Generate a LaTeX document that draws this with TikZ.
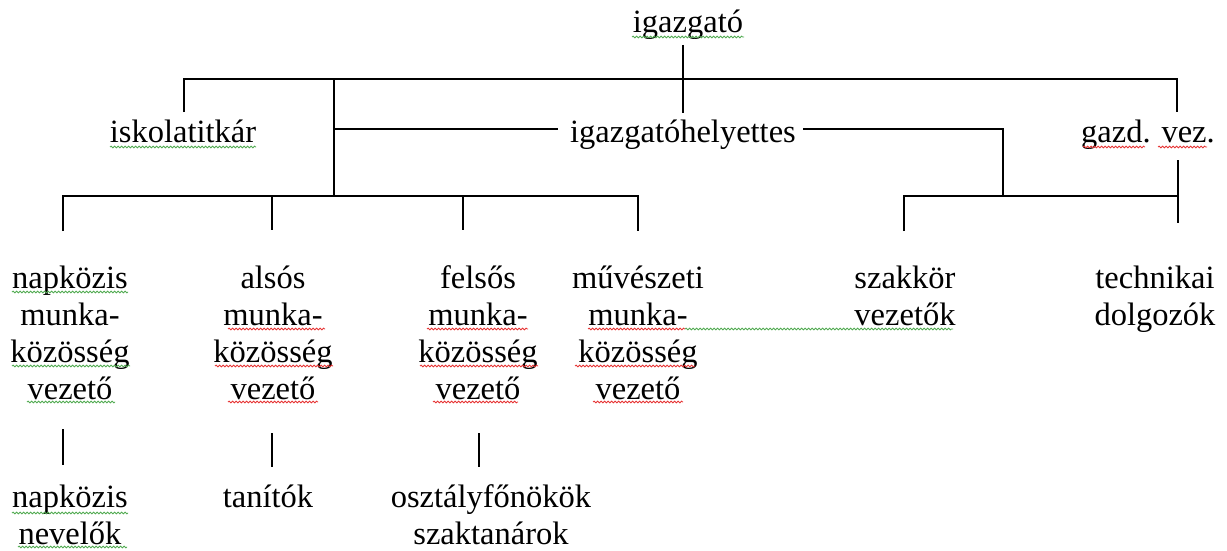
\documentclass[tikz,border=0pt]{standalone}
\usepackage{fontspec}
\setmainfont{Liberation Serif}
\usetikzlibrary{decorations.pathmorphing}
\newcommand{\mystrut}{\rule{0pt}{25pt}}
\definecolor{sqgreen}{RGB}{80,170,80}
\definecolor{sqred}{RGB}{230,50,50}
\begin{document}
\begin{tikzpicture}[x=1pt,y=-1pt,
  lbl/.style={inner sep=0pt, font=\fontsize{32.5}{37}\selectfont, align=center, anchor=north},
  conn/.style={line width=1.4pt, draw=black},
  sq/.style={line width=0.8pt, decorate, decoration={snake, segment length=3.5pt, amplitude=0.9pt}},
  sqg/.style={sq, draw=sqgreen},
  sqr/.style={sq, draw=sqred}]
\useasboundingbox (0,0) rectangle (1227,551);

% labels
\node[lbl] (igaz) at (688,7) {\mystrut igazgató};
\node[lbl] (iskola) at (183,117) {\mystrut iskolatitkár};
\node[lbl] (helyettes) at (683,117) {\mystrut igazgatóhelyettes};
\node[lbl] (gazd) at (1148,117) {\mystrut gazd. vez.};
\node[lbl] (napk) at (70,263) {\mystrut napközis\\munka-\\közösség\\vezető};
\node[lbl] (also) at (273,263) {\mystrut alsós\\munka-\\közösség\\vezető};
\node[lbl] (felso) at (478,263) {\mystrut felsős\\munka-\\közösség\\vezető};
\node[lbl] (muv) at (638,263) {\mystrut művészeti\\munka-\\közösség\\vezető};
\node[lbl] (szak) at (905,263) {\mystrut szakkör\\vezetők};
\node[lbl] (tech) at (1155,263) {\mystrut technikai\\dolgozók};
\node[lbl] (napkn) at (70,482) {\mystrut napközis\\nevelők};
\node[lbl] (tanit) at (268,482) {\mystrut tanítók};
\node[lbl] (oszt) at (491,482) {\mystrut osztályfőnökök\\szaktanárok};

% junction coordinates
\coordinate (igB) at (683,45);
\coordinate (hT) at (683,113);
\coordinate (iskT) at (184,112);
\coordinate (tbL) at (184,79);
\coordinate (tbR) at (1177,79);
\coordinate (gzT) at (1177,112);
\coordinate (vA) at (334,79);
\coordinate (vB) at (334,196);
\coordinate (hL) at (558,129);
\coordinate (hR) at (803,129);
\coordinate (hC) at (1003,129);
\coordinate (hD) at (1003,196);
\coordinate (l1) at (63,231);
\coordinate (l1t) at (63,196);
\coordinate (l2t) at (272,196);
\coordinate (l2) at (272,230);
\coordinate (l3t) at (463,196);
\coordinate (l3) at (463,230);
\coordinate (l4t) at (638,196);
\coordinate (l4) at (638,231);
\coordinate (r1) at (904,231);
\coordinate (r1t) at (904,196);
\coordinate (r2t) at (1178,196);
\coordinate (gzB) at (1178,160);
\coordinate (r2) at (1178,223);
\coordinate (s1a) at (63,429);
\coordinate (s1b) at (63,465);
\coordinate (s2a) at (272,433);
\coordinate (s2b) at (272,467);
\coordinate (s3a) at (479,433);
\coordinate (s3b) at (479,467);

% connectors
\draw[conn] (igB) -- (hT);
\draw[conn] (iskT) -- (tbL) -- (tbR) -- (gzT);
\draw[conn] (vA) -- (vB);
\draw[conn] (vA |- hL) -- (hL);
\draw[conn] (hR) -- (hC) -- (hD);
\draw[conn] (l1) -- (l1t) -- (l4t) -- (l4);
\draw[conn] (l2t) -- (l2);
\draw[conn] (l3t) -- (l3);
\draw[conn] (r1) -- (r1t) -- (r2t);
\draw[conn] (gzB) -- (r2);
\draw[conn] (s1a) -- (s1b);
\draw[conn] (s2a) -- (s2b);
\draw[conn] (s3a) -- (s3b);

% spell-check underlines
\draw[sqg] (632,37) -- (744,37);
\draw[sqg] (110,147) -- (256,147);
\draw[sqr] (1083,147) -- (1145,147);
\draw[sqr] (1158,147) -- (1207,147);
\draw[sqg] (12,292) -- (128,292);
\draw[sqg] (12,366) -- (130,366);
\draw[sqg] (27,402) -- (115,402);
\draw[sqr] (228,329) -- (325,329);
\draw[sqr] (215,366) -- (333,366);
\draw[sqr] (228,402) -- (318,402);
\draw[sqr] (427,329) -- (528,329);
\draw[sqr] (420,366) -- (538,366);
\draw[sqr] (433,402) -- (518,402);
\draw[sqr] (588,329) -- (685,329);
\draw[sqg] (685,329) -- (953,329);
\draw[sqr] (575,366) -- (695,366);
\draw[sqr] (593,402) -- (683,402);
\draw[sqg] (12,513) -- (128,513);
\draw[sqg] (18,547) -- (127,547);
\end{tikzpicture}
\end{document}
